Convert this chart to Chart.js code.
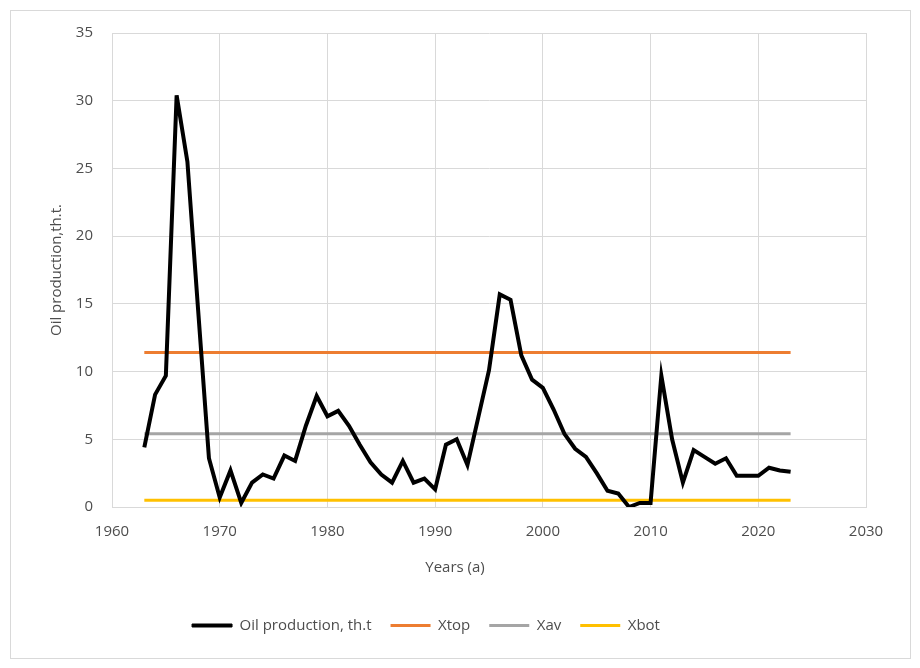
<!DOCTYPE html>
<html>
<head>
<meta charset="utf-8">
<script src="https://cdn.jsdelivr.net/npm/chart.js@4"></script>
<style>
  html, body { margin: 0; padding: 0; background: #fff; }
  #frame {
    position: absolute; left: 10px; top: 10px;
    width: 899px; height: 647px;
    border: 1px solid #d9d9d9;
  }
  #wrap {
    position: absolute; left: 11px; top: 5px;
    width: 899px; height: 652px;
  }
</style>
</head>
<body>
<div id="frame"></div>
<div id="wrap"><canvas id="chart"></canvas></div>
<script>
// oil production by year, th.t
const years = [
  1963, 1964, 1965, 1966, 1967, 1968, 1969, 1970, 1971, 1972,
  1973, 1974, 1975, 1976, 1977, 1978, 1979, 1980, 1981, 1982,
  1983, 1984, 1985, 1986, 1987, 1988, 1989, 1990, 1991, 1992,
  1993, 1994, 1995, 1996, 1997, 1998, 1999, 2000, 2001, 2002,
  2003, 2004, 2005, 2006, 2007, 2008, 2009, 2010, 2011, 2012,
  2013, 2014, 2015, 2016, 2017, 2018, 2019, 2020, 2021, 2022, 2023
];
const production = [
  4.4, 8.3, 9.7, 30.4, 25.5, 14.5, 3.6, 0.7, 2.7, 0.3,
  1.8, 2.4, 2.1, 3.8, 3.4, 6.0, 8.2, 6.7, 7.1, 6.0,
  4.6, 3.3, 2.4, 1.8, 3.4, 1.8, 2.1, 1.3, 4.6, 5.0,
  3.1, 6.6, 10.1, 15.7, 15.3, 11.2, 9.4, 8.8, 7.2, 5.4,
  4.3, 3.7, 2.5, 1.2, 1.0, 0.0, 0.3, 0.3, 9.7, 5.0,
  1.8, 4.2, 3.7, 3.2, 3.6, 2.3, 2.3, 2.3, 2.9, 2.7, 2.6
];

// reference levels
const levelNames = ['Xtop', 'Xav', 'Xbot'];
const levelValues = [11.4, 5.4, 0.5];
const levelColors = ['#ED7D31', '#A5A5A5', '#FFC000'];

const xTicks = [1960, 1970, 1980, 1990, 2000, 2010, 2020, 2030];
const yTicks = [0, 5, 10, 15, 20, 25, 30, 35];

const textColor = '#4d4d4d';
const gridColor = '#d9d9d9';
const font = { family: 'Open Sans', size: 15 };

const datasets = [{
  label: 'Oil production, th.t',
  data: years.map((y, i) => ({ x: y, y: production[i] })),
  borderColor: '#000000',
  backgroundColor: '#000000',
  borderWidth: 4,
  pointRadius: 0,
  tension: 0
}];
levelNames.forEach((name, i) => {
  datasets.push({
    label: name,
    data: [
      { x: years[0], y: levelValues[i] },
      { x: years[years.length - 1], y: levelValues[i] }
    ],
    borderColor: levelColors[i],
    backgroundColor: levelColors[i],
    borderWidth: 3,
    pointRadius: 0
  });
});

// excel puts the legend a bit left of centre
const legendShift = {
  id: 'legendShift',
  afterLayout(chart) {
    chart.legend.left -= 29;
    chart.legend.right -= 29;
  }
};

new Chart('chart', {
  type: 'line',
  data: { datasets: datasets },
  plugins: [legendShift],
  options: {
    responsive: true,
    maintainAspectRatio: false,
    animation: false,
    layout: { autoPadding: false, padding: { left: 33, right: 44, top: 0, bottom: 14 } },
    plugins: {
      tooltip: { enabled: false },
      title: {
        display: true,
        position: 'bottom',
        weight: 500,
        text: 'Years (a)',
        color: textColor,
        font: { family: 'Open Sans', size: 15, weight: 'normal' },
        padding: { top: 12, bottom: 22 }
      },
      legend: {
        position: 'bottom',
        labels: {
          color: textColor,
          font: font,
          boxWidth: 40,
          boxHeight: 3,
          padding: 19,
          generateLabels(chart) {
            const items = Chart.defaults.plugins.legend.labels.generateLabels(chart);
            items.forEach((it, i) => {
              it.lineWidth = i === 0 ? 1 : 0;
              it.fillStyle = chart.data.datasets[i].borderColor;
            });
            return items;
          }
        }
      }
    },
    scales: {
      x: {
        type: 'linear',
        min: 1960,
        max: 2030,
        afterBuildTicks(scale) { scale.ticks = xTicks.map(v => ({ value: v })); },
        afterFit(scale) { scale.height = 40; },
        ticks: {
          color: textColor, font: font, padding: 16,
          callback: v => String(v)
        },
        grid: { color: gridColor, drawTicks: false },
        border: { color: gridColor }
      },
      y: {
        min: 0,
        max: 35,
        afterBuildTicks(scale) { scale.ticks = yTicks.map(v => ({ value: v })); },
        afterFit(scale) { scale.width = 68; },
        ticks: { color: textColor, font: font, padding: 19 },
        grid: { color: gridColor, drawTicks: false },
        border: { color: gridColor },
        title: {
          display: true, text: 'Oil production,th.t.',
          color: textColor, font: font, padding: { bottom: 6 }
        }
      }
    }
  }
});
</script>
</body>
</html>
